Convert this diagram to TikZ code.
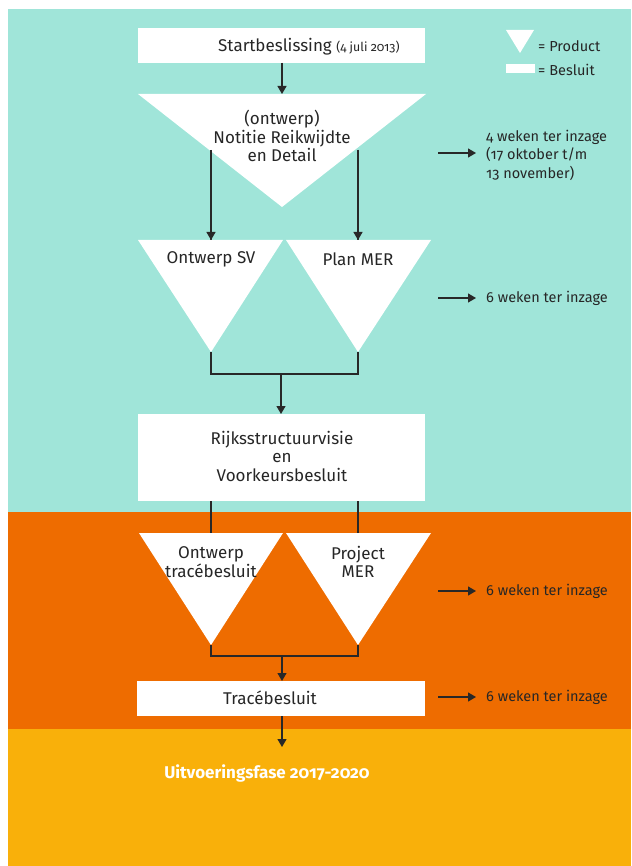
\documentclass[tikz,border=0pt]{standalone}
\usepackage{fontspec}
\setmainfont{Fira Sans}[Numbers=OldStyle]
\usetikzlibrary{arrows.meta}
\definecolor{teal}{RGB}{160,229,217}
\definecolor{oranj}{RGB}{238,108,0}
\definecolor{geel}{RGB}{249,176,10}
\definecolor{lijn}{RGB}{40,40,40}
\tikzset{
  besluit/.style={fill=white,draw=none},
  product/.style={fill=white,draw=none},
  lbl/.style={inner sep=0pt,font=\fontsize{17}{18.5}\selectfont,align=center,text=black!85},
  side/.style={inner sep=0pt,font=\fontsize{14.5}{18.5}\selectfont,align=left,anchor=west,text=black!85},
  conn/.style={draw=lijn,line width=1.2pt},
  arr/.style={conn,-{Triangle[width=9pt,length=8pt]}},
}
\begin{document}
\begin{tikzpicture}[x=1pt,y=-1pt]
\useasboundingbox (0,0) rectangle (631,866);
% background bands
\fill[teal] (8,9) rectangle (631,512);
\fill[oranj] (8,512) rectangle (631,729);
\fill[geel] (8,729) rectangle (631,866);

% coordinates
\coordinate (startb) at (282,63);
\coordinate (t1top) at (282,94);
\coordinate (t1L) at (211,150);
\coordinate (t1R) at (358,150);
\coordinate (svtop) at (211,240);
\coordinate (mertop) at (358,240);
\coordinate (svapex) at (211,352);
\coordinate (merapex) at (358,352);
\coordinate (join1) at (281,374);
\coordinate (rijkstop) at (281,414);
\coordinate (rijksL) at (211,501);
\coordinate (rijksR) at (358,501);
\coordinate (otbtop) at (211,533);
\coordinate (pmtop) at (358,533);
\coordinate (otbapex) at (211,645);
\coordinate (pmapex) at (358,645);
\coordinate (join2) at (282,656);
\coordinate (tbtop) at (282,681);
\coordinate (tbbot) at (282,716);
\coordinate (uitv) at (282,747);

% connectors behind shapes
\draw[conn] (t1L) -- (svtop);
\draw[conn] (t1R) -- (mertop);
\draw[conn] (rijksL) -- (otbtop);
\draw[conn] (rijksR) -- (pmtop);

% shapes
\fill[besluit] (138,28) rectangle (425,63);
\fill[product] (138,94) -- (426,94) -- (282,207) -- cycle;
\fill[product] (138,240) -- (283,240) -- (svapex) -- cycle;
\fill[product] (286,240) -- (431,240) -- (merapex) -- cycle;
\fill[besluit] (138,414) rectangle (425,501);
\fill[product] (139,533) -- (283,533) -- (otbapex) -- cycle;
\fill[product] (286,533) -- (431,533) -- (pmapex) -- cycle;
\fill[besluit] (137,681) rectangle (425,716);

% arrows
\draw[arr] (startb) -- (t1top);
\draw[arr] (t1L) -- (svtop);
\draw[arr] (t1R) -- (mertop);
\draw[conn] (svapex) |- (join1) -| (merapex);
\draw[arr] (join1) -- (rijkstop);
\draw[conn] (otbapex) |- (join2) -| (pmapex);
\draw[arr] (join2) -- (tbtop);
\draw[arr] (tbbot) -- (uitv);

% texts
\node[lbl,anchor=base west] (start) at (218,52) {Startbeslissing {\fontsize{12.4}{14}\selectfont(4 juli 2013)}};
\node[lbl] (notitie) at (282,136) {(ontwerp)\\Notitie Reikwijdte\\en Detail};
\node[lbl] (sv) at (211,259) {Ontwerp SV};
\node[lbl] (mer) at (358,259) {Plan MER};
\node[lbl] (rijks) at (282,456) {Rijksstructuurvisie\\en\\Voorkeursbesluit};
\node[lbl] (otb) at (211,562) {Ontwerp\\tracébesluit};
\node[lbl] (pm) at (358,562) {Project\\MER};
\node[lbl] (tb) at (270,698) {Tracébesluit};
\node[lbl,font=\bfseries\fontsize{17}{18}\selectfont,text=white] (uit) at (267,773) {Uitvoeringsfase 2017-2020};

% side notes
\coordinate (s1a) at (438,153); \coordinate (s1b) at (476,153);
\draw[arr] (s1a) -- (s1b);
\node[side] (n1) at (486,155) {4 weken ter inzage\\(17 oktober t/m\\13 november)};
\coordinate (s2a) at (438,298); \coordinate (s2b) at (476,298);
\draw[arr] (s2a) -- (s2b);
\node[side] (n2) at (486,298) {6 weken ter inzage};
\coordinate (s3a) at (438,591); \coordinate (s3b) at (476,591);
\draw[arr] (s3a) -- (s3b);
\node[side] (n3) at (486,591) {6 weken ter inzage};
\coordinate (s4a) at (438,697); \coordinate (s4b) at (476,697);
\draw[arr] (s4a) -- (s4b);
\node[side] (n4) at (486,697) {6 weken ter inzage};

% legend
\fill[product] (506,30) -- (534,30) -- (520,53) -- cycle;
\node[side] (lp) at (538,46) {= Product};
\fill[besluit] (506,64) rectangle (535,73);
\node[side] (lb) at (538,70) {= Besluit};
\end{tikzpicture}
\end{document}
